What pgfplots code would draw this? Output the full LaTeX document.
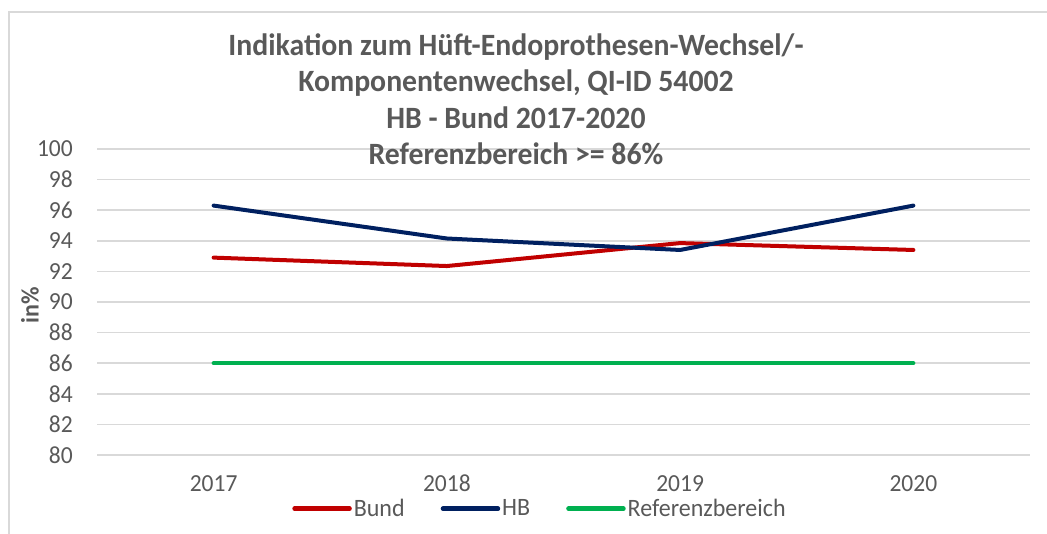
\documentclass[border=0pt]{standalone}
\usepackage{fontspec}
\setmainfont{Carlito}[FakeStretch=0.96]
\usepackage{pgfplots}
\pgfplotsset{compat=1.18}
\definecolor{bund}{HTML}{C00000}
\definecolor{hb}{HTML}{002060}
\definecolor{refc}{HTML}{00B050}
\definecolor{txt}{HTML}{595959}
\definecolor{gridc}{HTML}{D9D9D9}
\begin{document}
\begin{tikzpicture}[x=1pt,y=1pt]
\path[use as bounding box] (0,0) rectangle (1047,534);
\draw[gridc, line width=1.5pt] (9,0) -- (9,522) -- (1047,522);
\begin{axis}[at={(97pt,79pt)}, anchor=south west, scale only axis,
  width=933pt, height=306pt,
  xmin=-0.5, xmax=3.5, ymin=80, ymax=100,
  ytick={80,82,...,100}, xtick={0,1,2,3}, xticklabels={2017,2018,2019,2020},
  axis line style={draw=none}, major tick length=0pt,
  ymajorgrids, grid style={gridc, line width=1.5pt},
  /pgf/number format/assume math mode=true,
  tick label style={font=\fontsize{24.5}{28}\selectfont, text=txt},
  yticklabel style={anchor=east, inner xsep=0pt, xshift=-24pt},
  xticklabel style={anchor=base, inner ysep=0pt, yshift=-37pt},
  legend columns=3,
  legend style={at={(0.4748,-0.1755)}, anchor=center, draw=none, fill=none,
    font=\fontsize{25}{28}\selectfont, text=txt, inner sep=0pt,
    /tikz/every even column/.append style={column sep=34pt},
    nodes={inner xsep=2pt, inner ysep=0pt}},
  legend cell align=left,
  legend image code/.code={\draw[#1, line width=4.5pt, line cap=round] (0pt,0pt) -- (55pt,0pt);},
]
\addplot[bund, line width=4pt, line cap=round] coordinates {(0,92.9) (1,92.35) (2,93.85) (3,93.4)};
\addlegendentry{Bund}
\addplot[hb, line width=4pt, line cap=round] coordinates {(0,96.3) (1,94.15) (2,93.4) (3,96.3)};
\addlegendentry{HB}
\addplot[refc, line width=4pt, line cap=round] coordinates {(0,86) (1,86) (2,86) (3,86)};
\addlegendentry{Referenzbereich}
\end{axis}
\node[font=\fontsize{31}{36.5}\selectfont\bfseries, text=txt, align=center] at (516,435)
 {Indikation zum Hüft-Endoprothesen-Wechsel/-\\Komponentenwechsel, QI-ID 54002\\HB - Bund 2017-2020\\Referenzbereich >= 86\%};
\node[rotate=90, font=\fontsize{25}{28}\selectfont\bfseries, text=txt] at (30,229) {in\%};
\end{tikzpicture}
\end{document}
